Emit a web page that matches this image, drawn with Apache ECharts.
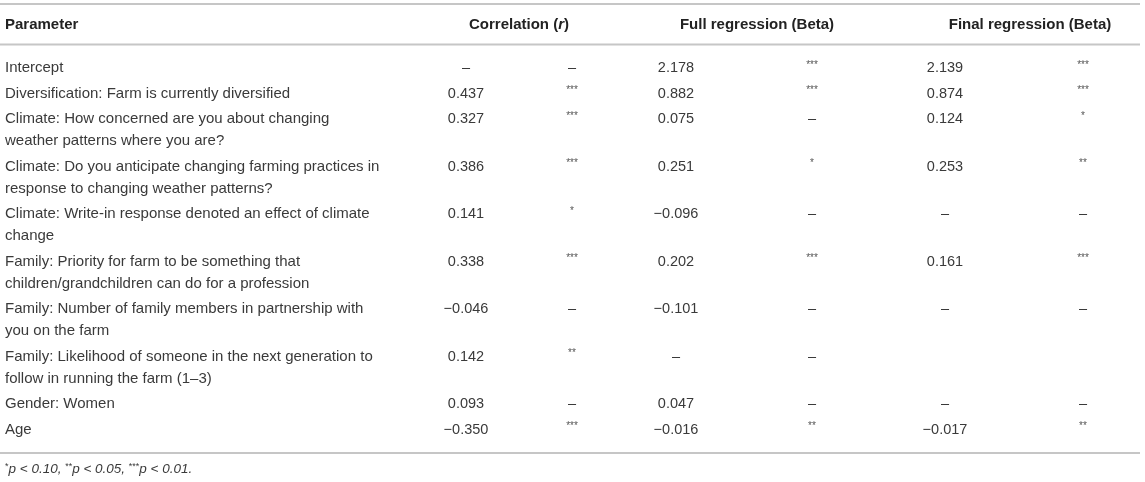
<!DOCTYPE html>
<html>
<head>
<meta charset="utf-8">
<script src="https://cdn.jsdelivr.net/npm/echarts@6/dist/echarts.min.js"></script>
<style>
  html, body { margin: 0; padding: 0; background: #fff; }
  #table { width: 1145px; height: 482px; }
</style>
</head>
<body>
<div id="table"></div>
<script>
// table content
var parameters = [
  'Intercept',
  'Diversification: Farm is currently diversified',
  'Climate: How concerned are you about changing\nweather patterns where you are?',
  'Climate: Do you anticipate changing farming practices in\nresponse to changing weather patterns?',
  'Climate: Write-in response denoted an effect of climate\nchange',
  'Family: Priority for farm to be something that\nchildren/grandchildren can do for a profession',
  'Family: Number of family members in partnership with\nyou on the farm',
  'Family: Likelihood of someone in the next generation to\nfollow in running the farm (1–3)',
  'Gender: Women',
  'Age'
];
var corrR    = ['–', '0.437', '0.327', '0.386', '0.141', '0.338', '−0.046', '0.142', '0.093', '−0.350'];
var corrSig  = ['–', '***', '***', '***', '*', '***', '–', '**', '–', '***'];
var fullBeta = ['2.178', '0.882', '0.075', '0.251', '−0.096', '0.202', '−0.101', '–', '0.047', '−0.016'];
var fullSig  = ['***', '***', '–', '*', '–', '***', '–', '–', '–', '**'];
var finalBeta = ['2.139', '0.874', '0.124', '0.253', '–', '0.161', '–', '', '–', '−0.017'];
var finalSig  = ['***', '***', '*', '**', '–', '***', '–', '', '–', '**'];
var headers = ['Parameter', 'Correlation (r)', 'Full regression (Beta)', 'Final regression (Beta)'];

// layout, in page pixels mapped through the hidden axes
var lay = {
  ruleTop: 4, headMid: 25, ruleHead: 44.5, firstMid: 68, rowPitch: 25.5, lineGap: 22,
  ruleBottom: 453, footMid: 469, ruleLeft: 0, ruleRight: 1140,
  colParam: 5, colCorr: 466, colCorrSig: 572, colFull: 676, colFullSig: 812,
  colFinal: 945, colFinalSig: 1083,
  headCorr: 519, headFull: 757, headFinal: 1030
};
var FONT = '"Liberation Sans", Arial, Helvetica, sans-serif';
var TXT = '#3a3a3a';

// row centres, cumulated from line counts
var rowMid = [];
var y = lay.firstMid;
parameters.forEach(function (p) {
  rowMid.push(y);
  y += lay.rowPitch + (p.split('\n').length - 1) * lay.lineGap;
});

function cell(api, x, yy, text, align, small) {
  var pt = api.coord([x, yy + (small ? -3 : 0)]);
  return {
    type: 'text', x: pt[0], y: pt[1],
    style: {
      text: text, fill: small ? '#555' : TXT,
      fontFamily: FONT, fontSize: small ? 10 : 14.5,
      align: align, verticalAlign: 'middle'
    }
  };
}

function renderRow(params, api) {
  var i = api.value(0);
  var m = rowMid[i];
  var pt = api.coord([lay.colParam, m - lay.lineGap / 2]);
  return {
    type: 'group',
    children: [
      {
        type: 'text', x: pt[0], y: pt[1],
        style: {
          text: parameters[i], fill: TXT, fontFamily: FONT, fontSize: 15,
          lineHeight: lay.lineGap, align: 'left', verticalAlign: 'top'
        }
      },
      cell(api, lay.colCorr, m, corrR[i], 'center'),
      cell(api, lay.colCorrSig, m, corrSig[i], 'center', corrSig[i] !== '–'),
      cell(api, lay.colFull, m, fullBeta[i], 'center'),
      cell(api, lay.colFullSig, m, fullSig[i], 'center', fullSig[i] !== '–'),
      cell(api, lay.colFinal, m, finalBeta[i], 'center'),
      cell(api, lay.colFinalSig, m, finalSig[i], 'center', finalSig[i] !== '–')
    ]
  };
}

function renderRule(params, api) {
  var a = api.coord([lay.ruleLeft, api.value(0)]);
  var b = api.coord([lay.ruleRight, api.value(0)]);
  return {
    type: 'line',
    shape: { x1: a[0], y1: a[1], x2: b[0], y2: b[1] },
    style: { stroke: '#c6c6c6', lineWidth: 2 }
  };
}

function renderHead(params, api) {
  var bold = { fontFamily: FONT, fontSize: 15, fontWeight: 'bold', fill: '#222' };
  var rich = { b: bold, bi: Object.assign({}, bold, { fontStyle: 'italic' }) };
  var spots = [
    [lay.colParam, 'left', '{b|' + headers[0] + '}'],
    [lay.headCorr, 'center', '{b|Correlation (}{bi|r}{b|)}'],
    [lay.headFull, 'center', '{b|' + headers[2] + '}'],
    [lay.headFinal, 'center', '{b|' + headers[3] + '}']
  ];
  var kids = spots.map(function (s) {
    var pt = api.coord([s[0], lay.headMid]);
    return {
      type: 'text', x: pt[0], y: pt[1],
      style: { text: s[2], rich: rich, align: s[1], verticalAlign: 'middle' }
    };
  });
  var it = { fontFamily: FONT, fontSize: 13.5, fontStyle: 'italic', fill: TXT };
  var sup = { fontFamily: FONT, fontSize: 9, fill: TXT, verticalAlign: 'top', padding: [0, 0, 4, 0] };
  var fp = api.coord([lay.colParam, lay.footMid]);
  kids.push({
    type: 'text', x: fp[0], y: fp[1],
    style: {
      text: '{s|*}{i|p < 0.10, }{s|**}{i|p < 0.05, }{s|***}{i|p < 0.01.}',
      rich: { i: it, s: sup }, align: 'left', verticalAlign: 'middle'
    }
  });
  return { type: 'group', children: kids };
}

var chart = echarts.init(document.getElementById('table'));
chart.setOption({
  animation: false,
  grid: { left: 0, right: 0, top: 0, bottom: 0 },
  xAxis: { type: 'value', min: 0, max: 1145, show: false },
  yAxis: { type: 'value', min: 0, max: 482, inverse: true, show: false },
  series: [
    { type: 'custom', renderItem: renderRule, data: [[lay.ruleTop], [lay.ruleHead], [lay.ruleBottom]], silent: true },
    { type: 'custom', renderItem: renderHead, data: [[0]], silent: true },
    { type: 'custom', renderItem: renderRow, data: parameters.map(function (p, i) { return [i]; }), silent: true }
  ]
});
window.addEventListener('resize', function () { chart.resize(); });
</script>
</body>
</html>
